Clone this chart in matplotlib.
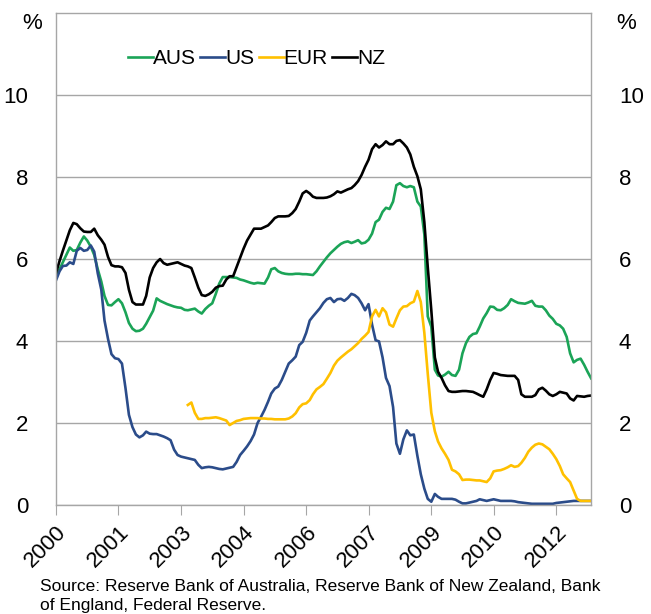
import numpy as np
import pandas as pd
import matplotlib
matplotlib.use("Agg")
from matplotlib import pyplot as plt
import matplotlib.dates as mdates

plt.rcParams['font.family'] = ['Liberation Sans', 'DejaVu Sans']

months = pd.date_range('2000-01-01', periods=155, freq='MS')

aus = [5.54, 5.75, 5.92, 6.1, 6.28, 6.2, 6.22, 6.4, 6.55, 6.45, 6.3, 6.1,
       5.75, 5.45, 5.1, 4.88, 4.87, 4.95, 5.02, 4.92, 4.7, 4.44, 4.3, 4.24,
       4.25, 4.3, 4.42, 4.58, 4.74, 5.04, 4.98, 4.94, 4.9, 4.87, 4.84, 4.82,
       4.81, 4.76, 4.75, 4.77, 4.79, 4.72, 4.67, 4.78, 4.86, 4.92, 5.15, 5.4,
       5.56, 5.56, 5.56, 5.55, 5.54, 5.5, 5.48, 5.45, 5.42, 5.4, 5.42, 5.41,
       5.4, 5.55, 5.75, 5.78, 5.7, 5.66, 5.64, 5.63, 5.63, 5.64, 5.64, 5.63,
       5.63, 5.62, 5.61, 5.7, 5.82, 5.93, 6.04, 6.14, 6.22, 6.3, 6.37, 6.41,
       6.43, 6.39, 6.42, 6.46, 6.38, 6.4, 6.47, 6.62, 6.9, 6.96, 7.15, 7.25,
       7.22, 7.4, 7.8, 7.85, 7.78, 7.75, 7.78, 7.75, 7.4, 7.28, 6.6, 4.6,
       4.35, 3.3, 3.16, 3.13, 3.18, 3.25, 3.17, 3.15, 3.3, 3.7, 3.95, 4.1,
       4.17, 4.19, 4.35, 4.55, 4.68, 4.84, 4.83, 4.76, 4.75, 4.8, 4.88, 5.02,
       4.97, 4.93, 4.92, 4.91, 4.94, 4.98, 4.86, 4.84, 4.84, 4.75, 4.62, 4.54,
       4.42, 4.38, 4.3, 4.1, 3.7, 3.48, 3.54, 3.57, 3.42, 3.25, 3.09]

us = [5.48, 5.7, 5.83, 5.84, 5.92, 5.88, 6.2, 6.27, 6.2, 6.22, 6.33, 6.18,
      5.65, 5.25, 4.5, 4.05, 3.68, 3.58, 3.56, 3.45, 2.85, 2.2, 1.9, 1.72,
      1.65, 1.7, 1.79, 1.74, 1.73, 1.73, 1.7, 1.67, 1.63, 1.58, 1.35, 1.22,
      1.18, 1.16, 1.14, 1.12, 1.1, 0.98, 0.9, 0.92, 0.93, 0.92, 0.9, 0.88,
      0.87, 0.89, 0.91, 0.93, 1.05, 1.22, 1.32, 1.43, 1.56, 1.72, 2.0, 2.15,
      2.32, 2.52, 2.72, 2.84, 2.89, 3.05, 3.25, 3.45, 3.53, 3.62, 3.9, 3.98,
      4.2, 4.5, 4.6, 4.7, 4.8, 4.93, 5.02, 5.05, 4.95, 5.02, 5.03, 4.98,
      5.05, 5.15, 5.12, 5.05, 4.92, 4.75, 4.9, 4.4, 4.02, 3.99, 3.6, 3.1,
      2.9, 2.39, 1.5, 1.25, 1.6, 1.82, 1.7, 1.72, 1.2, 0.75, 0.4, 0.15,
      0.08, 0.27, 0.2, 0.15, 0.15, 0.15, 0.15, 0.13, 0.08, 0.04, 0.04, 0.06,
      0.08, 0.1, 0.14, 0.12, 0.1, 0.12, 0.14, 0.12, 0.1, 0.1, 0.1, 0.1,
      0.09, 0.07, 0.06, 0.05, 0.04, 0.03, 0.03, 0.03, 0.03, 0.03, 0.03, 0.03,
      0.05, 0.06, 0.07, 0.08, 0.09, 0.1, 0.1, 0.1, 0.1, 0.1, 0.1]

# euro series only starts in March 2003
eur = [np.nan] * 38 + [
      2.44, 2.5, 2.25, 2.1, 2.1, 2.12, 2.12, 2.13, 2.14, 2.12,
      2.09, 2.06, 1.95, 2.0, 2.05, 2.07, 2.1, 2.11, 2.12, 2.12, 2.12, 2.11,
      2.11, 2.1, 2.1, 2.09, 2.09, 2.09, 2.09, 2.11, 2.16, 2.24, 2.38, 2.46,
      2.48, 2.56, 2.7, 2.82, 2.88, 2.95, 3.08, 3.22, 3.4, 3.52, 3.6, 3.67,
      3.74, 3.8, 3.87, 3.95, 4.05, 4.13, 4.22, 4.6, 4.76, 4.6, 4.8, 4.7,
      4.4, 4.35, 4.55, 4.75, 4.84, 4.85, 4.92, 4.96, 5.22, 4.95, 4.2, 3.2,
      2.25, 1.8, 1.55, 1.38, 1.25, 1.1, 0.86, 0.82, 0.75, 0.61, 0.62, 0.62,
      0.61, 0.6, 0.6, 0.58, 0.56, 0.65, 0.82, 0.84, 0.85, 0.88, 0.92, 0.97,
      0.93, 0.95, 1.03, 1.15, 1.3, 1.4, 1.47, 1.5, 1.48, 1.42, 1.36, 1.25,
      1.12, 0.95, 0.75, 0.65, 0.56, 0.35, 0.15, 0.1, 0.1, 0.1, 0.1]

nz = [5.66, 5.95, 6.2, 6.45, 6.7, 6.88, 6.85, 6.75, 6.67, 6.66, 6.66, 6.74,
      6.58, 6.47, 6.35, 6.05, 5.85, 5.82, 5.82, 5.8, 5.66, 5.25, 4.95, 4.89,
      4.89, 4.89, 5.1, 5.55, 5.78, 5.92, 6.0, 5.9, 5.86, 5.88, 5.9, 5.92,
      5.88, 5.84, 5.82, 5.78, 5.55, 5.3, 5.12, 5.1, 5.14, 5.2, 5.3, 5.34,
      5.35, 5.5, 5.58, 5.58, 5.8, 6.03, 6.25, 6.45, 6.6, 6.74, 6.74, 6.74,
      6.78, 6.82, 6.9, 7.0, 7.04, 7.04, 7.04, 7.05, 7.12, 7.22, 7.4, 7.6,
      7.66, 7.6, 7.52, 7.49, 7.49, 7.49, 7.5, 7.53, 7.58, 7.65, 7.62, 7.66,
      7.7, 7.73, 7.8, 7.9, 8.05, 8.25, 8.42, 8.68, 8.8, 8.72, 8.78, 8.87,
      8.8, 8.8, 8.88, 8.9, 8.82, 8.72, 8.55, 8.25, 8.02, 7.7, 6.9, 5.8,
      4.75, 3.6, 3.25, 3.1, 2.92, 2.78, 2.76, 2.76, 2.77, 2.78, 2.78, 2.77,
      2.76, 2.72, 2.68, 2.64, 2.82, 3.05, 3.22, 3.2, 3.17, 3.16, 3.15, 3.15,
      3.15, 3.05, 2.7, 2.64, 2.64, 2.64, 2.68, 2.82, 2.86, 2.79, 2.7, 2.66,
      2.7, 2.76, 2.74, 2.72, 2.6, 2.55, 2.66, 2.65, 2.64, 2.66, 2.67]

series = ["AUS", "US", "EUR", "NZ"]
colors = ["#1BA457", "#2B4C8A", "#FFC000", "#000000"]
yticks = [0, 2, 4, 6, 8, 10]

fig = plt.figure(figsize=(6.51, 6.14), dpi=100)
ax = fig.add_axes([0.086, 0.1775, 0.822, 0.8013])

for name, vals, c in zip(series, [aus, us, eur, nz], colors):
    ax.plot(months, vals, color=c, lw=1.9, label=name)

ax.set_xlim(months[0], months[-1])
ax.set_ylim(0, 12)
ax.set_yticks(yticks)
ax.grid(axis='y', color='#A6A6A6', lw=1)
ax.set_axisbelow(True)
for s in ax.spines.values():
    s.set_color('#A6A6A6')
    s.set_linewidth(1)

ax.tick_params(axis='y', length=0, labelsize=16, pad=20, labelright=True)
ticks = pd.date_range('2000-01-01', periods=9, freq='18MS')
ax.set_xticks(ticks)
ax.xaxis.set_major_formatter(mdates.DateFormatter('%Y'))
ax.tick_params(axis='x', direction='out', length=7, color='#A6A6A6', labelsize=16, pad=5)
for lab in ax.get_xticklabels():
    lab.set_rotation(45)
    lab.set_ha('right')
    lab.set_rotation_mode('anchor')

fig.text(0.034, 0.962, "%", fontsize=16, va='center', ha='left')
fig.text(0.946, 0.962, "%", fontsize=16, va='center', ha='left')

ax.legend(loc='upper left', bbox_to_anchor=(0.1, 0.965), ncol=4, frameon=False,
          fontsize=15, handlelength=1.2, handletextpad=0.0, columnspacing=0.2)

fig.text(0.062, 0.057, "Source: Reserve Bank of Australia, Reserve Bank of New Zealand, Bank\nof England, Federal Reserve.",
         fontsize=12.5, va='top', ha='left', linespacing=1.3)

fig.savefig("out.png", dpi=100)
